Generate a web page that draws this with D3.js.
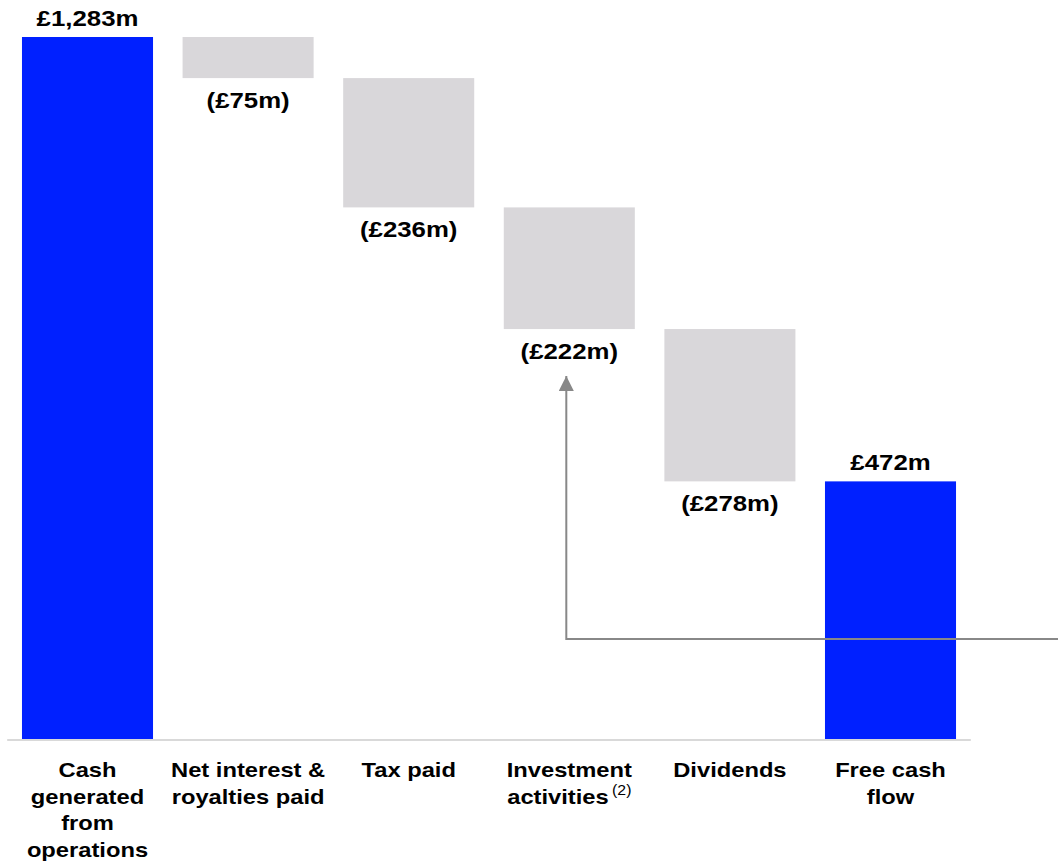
<!doctype html>
<html>
<head>
<meta charset="utf-8">
<style>
	body {
		margin: 0;
		background: #fff;
	}
	.val {
		font: bold 21.5px "Liberation Sans", Arial, sans-serif;
		fill: #000;
		text-anchor: middle;
	}
	.cat {
		font: bold 21px "Liberation Sans", Arial, sans-serif;
		fill: #000;
		text-anchor: middle;
	}
	.sup {
		font: 14px "Liberation Sans", Arial, sans-serif;
	}
	.axis-line {
		stroke: #d9d9d9;
		stroke-width: 2px;
	}
	.arrow {
		fill: none;
		stroke: #888;
		stroke-width: 2px;
	}
</style>
<script src="https://d3js.org/d3.v7.min.js"></script>
</head>
<body>
<div id="canvas"></div>
<script>
	// data
	var categories = ["Cash generated from operations", "Net interest & royalties paid", "Tax paid",
		"Investment activities", "Dividends", "Free cash flow"];
	var values = [1283, -75, -236, -222, -278, 472];
	var kinds = ["total", "delta", "delta", "delta", "delta", "total"];
	var valueLabels = ["£1,283m", "(£75m)", "(£236m)", "(£222m)", "(£278m)", "£472m"];
	var catLines = [
		["Cash", "generated", "from", "operations"],
		["Net interest &", "royalties paid"],
		["Tax paid"],
		["Investment", "activities"],
		["Dividends"],
		["Free cash", "flow"]
	];
	var footnotes = ["", "", "", "(2)", "", ""];

	var width = 1058,
		height = 865;

	var svg = d3.select("#canvas")
		.append("svg")
		.attr("width", width)
		.attr("height", height);

	// waterfall start / end
	var running = 0;
	var bars = values.map(function(v, i) {
		var d = {cat: categories[i], kind: kinds[i], label: valueLabels[i], i: i};
		if (kinds[i] === "total") {
			d.y0 = 0; d.y1 = v; running = v;
		} else {
			d.y0 = running; d.y1 = running + v; running = running + v;
		}
		return d;
	});

	var x = d3.scaleBand()
		.domain(categories)
		.range([7.2, 970.8])
		.paddingInner(0.184)
		.paddingOuter(0.092);

	var y = d3.scaleLinear()
		.domain([0, 1283])
		.range([740, 37]);

	var cx = d => x(d.cat) + x.bandwidth() / 2;

	svg.selectAll(".bar")
		.data(bars).enter()
		.append("rect")
		.attr("class", "bar")
		.attr("x", d => x(d.cat))
		.attr("y", d => y(Math.max(d.y0, d.y1)))
		.attr("width", x.bandwidth())
		.attr("height", d => Math.abs(y(d.y0) - y(d.y1)))
		.attr("fill", d => d.kind === "total" ? "#0020ff" : "#d9d7da");

	svg.append("line")
		.attr("class", "axis-line")
		.attr("x1", x.range()[0])
		.attr("x2", x.range()[1])
		.attr("y1", y(0))
		.attr("y2", y(0));

	// value labels (source text is a bit wider than Arial, so stretch it)
	svg.selectAll(".val")
		.data(bars).enter()
		.append("text")
		.attr("class", "val")
		.attr("transform", d => `translate(${cx(d)}, ${d.kind === "total" ? y(d.y1) - 11 : y(d.y1) + 30}) scale(1.2, 1)`)
		.text(d => d.label);

	// category labels
	var cats = svg.selectAll(".cat")
		.data(bars).enter()
		.append("text")
		.attr("class", "cat")
		.attr("transform", d => `translate(${cx(d)}, 777) scale(1.13, 1)`);

	cats.each(function(d) {
		var t = d3.select(this);
		catLines[d.i].forEach(function(line, j) {
			var ts = t.append("tspan")
				.attr("x", 0)
				.attr("dy", j === 0 ? 0 : 26.7)
				.text(line);
			if (j === catLines[d.i].length - 1 && footnotes[d.i]) {
				ts.append("tspan")
					.attr("class", "sup")
					.attr("dx", 3)
					.attr("dy", -9)
					.text(footnotes[d.i]);
			}
		});
	});

	// arrow from the right pointing to investment activities
	svg.append("defs").append("marker")
		.attr("id", "head")
		.attr("viewBox", "0 0 10 10")
		.attr("refX", 10)
		.attr("refY", 5)
		.attr("markerWidth", 7.5)
		.attr("markerHeight", 7.5)
		.attr("orient", "auto")
		.append("path")
		.attr("d", "M0,0L10,5L0,10Z")
		.attr("fill", "#888");

	var ax = x(categories[3]) + x.bandwidth() / 2 - 3;
	svg.append("path")
		.attr("class", "arrow")
		.attr("d", d3.line()([[width, 639], [ax, 639], [ax, 376]]))
		.attr("marker-end", "url(#head)");
</script>
</body>
</html>
